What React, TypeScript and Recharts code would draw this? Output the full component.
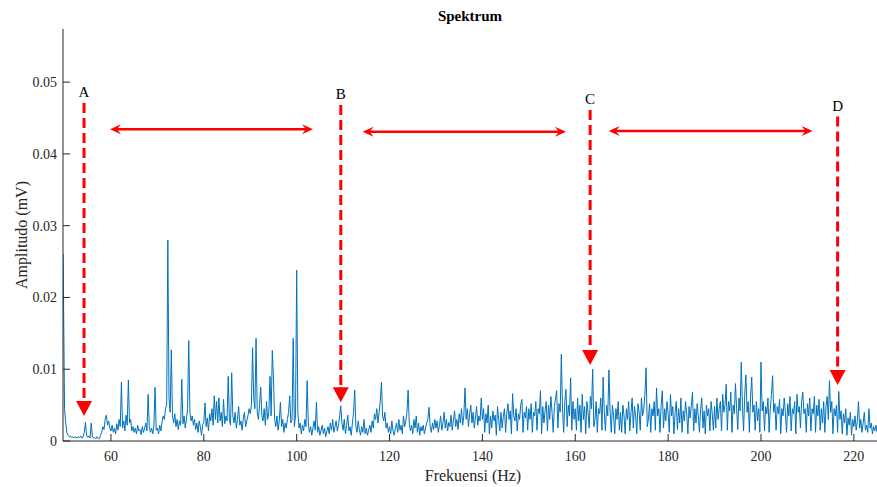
import React from 'react';
import { LineChart, Line, XAxis, YAxis, ReferenceLine } from 'recharts';

// amplitudes in units of 1e-4 mV, 0.25 Hz bins, each band covers 10 Hz
const amp50 = [45, 25, 12, 8, 6, 7, 5, 6, 4, 6, 5, 4, 6, 5, 7, 4, 6, 12, 26, 8, 5, 7, 4, 25, 6, 4, 5, 3, 6, 4, 3, 8, 12, 20, 16, 30, 36, 22, 28, 18];
const amp60 = [14, 22, 12, 18, 10, 24, 15, 30, 20, 82, 18, 28, 14, 36, 22, 85, 25, 30, 14, 20, 12, 18, 10, 22, 14, 16, 9, 20, 12, 18, 25, 14, 65, 20, 12, 18, 10, 22, 75, 15];
const amp70 = [18, 10, 22, 14, 26, 35, 30, 45, 50, 280, 60, 40, 127, 35, 25, 38, 20, 30, 16, 28, 22, 86, 24, 35, 18, 30, 45, 140, 40, 28, 35, 22, 30, 16, 25, 12, 28, 20, 8, 22];
const amp80 = [26, 53, 20, 32, 14, 38, 28, 45, 22, 63, 30, 55, 25, 60, 28, 40, 20, 58, 24, 35, 28, 90, 30, 22, 95, 35, 25, 40, 18, 30, 48, 22, 28, 15, 32, 40, 20, 28, 35, 45];
const amp90 = [38, 50, 130, 60, 45, 143, 40, 30, 50, 75, 35, 28, 45, 22, 55, 30, 40, 90, 35, 126, 88, 30, 20, 35, 15, 28, 54, 20, 30, 12, 25, 18, 30, 40, 63, 25, 30, 143, 20, 35];
const amp100 = [238, 40, 18, 25, 10, 22, 14, 30, 20, 84, 25, 12, 20, 8, 18, 28, 15, 54, 12, 20, 8, 15, 22, 10, 18, 6, 14, 20, 10, 25, 15, 30, 12, 20, 28, 14, 22, 35, 49, 25];
const amp110 = [15, 30, 10, 22, 36, 14, 20, 8, 25, 40, 71, 20, 12, 28, 16, 8, 20, 12, 30, 10, 18, 8, 15, 22, 12, 28, 18, 38, 30, 45, 25, 40, 55, 82, 35, 28, 40, 18, 25, 12];
const amp120 = [20, 10, 28, 14, 8, 18, 25, 12, 30, 15, 22, 10, 35, 20, 28, 40, 71, 25, 14, 22, 10, 30, 18, 35, 12, 25, 8, 20, 14, 22, 10, 18, 25, 30, 47, 20, 12, 25, 16, 30];
const amp130 = [18, 28, 12, 22, 35, 15, 25, 40, 18, 30, 14, 26, 20, 36, 15, 28, 42, 20, 30, 16, 38, 25, 45, 22, 35, 74, 30, 45, 20, 38, 50, 25, 40, 18, 32, 48, 22, 35, 28, 60];
const amp140 = [30, 45, 12, 38, 25, 50, 10, 35, 18, 42, 28, 36, 8, 48, 30, 14, 40, 18, 34, 45, 12, 38, 52, 30, 42, 10, 66, 35, 28, 45, 14, 38, 30, 50, 58, 12, 40, 32, 48, 15];
const amp150 = [45, 30, 52, 12, 40, 35, 55, 15, 45, 38, 70, 10, 48, 25, 42, 55, 14, 50, 30, 62, 40, 12, 48, 60, 70, 18, 52, 40, 121, 45, 12, 55, 72, 20, 50, 35, 88, 15, 55, 30];
const amp160 = [45, 15, 60, 28, 50, 12, 65, 30, 48, 10, 55, 40, 18, 62, 45, 100, 20, 30, 55, 12, 45, 38, 60, 15, 89, 40, 14, 50, 35, 99, 42, 12, 50, 35, 10, 45, 30, 55, 15, 40];
const amp170 = [12, 50, 35, 10, 45, 30, 55, 14, 40, 60, 18, 48, 35, 10, 52, 40, 15, 60, 35, 45, 65, 102, 20, 30, 52, 12, 45, 35, 55, 15, 74, 35, 45, 12, 50, 70, 18, 45, 28, 55];
const amp180 = [38, 12, 65, 35, 48, 10, 40, 55, 16, 45, 25, 60, 12, 42, 28, 55, 38, 10, 48, 32, 50, 68, 14, 45, 25, 52, 35, 12, 45, 60, 18, 42, 10, 50, 35, 45, 14, 55, 38, 15];
const amp190 = [48, 18, 60, 30, 45, 55, 14, 65, 40, 50, 79, 15, 55, 42, 68, 12, 50, 38, 80, 45, 16, 60, 42, 110, 50, 14, 65, 92, 40, 55, 12, 62, 89, 40, 50, 15, 55, 28, 45, 12];
const amp200 = [110, 42, 55, 14, 48, 38, 60, 12, 45, 65, 91, 40, 52, 15, 48, 38, 58, 10, 45, 35, 60, 40, 12, 52, 35, 62, 14, 45, 38, 55, 10, 65, 40, 48, 18, 55, 68, 38, 45, 12];
const amp210 = [52, 35, 60, 14, 45, 38, 62, 12, 50, 35, 58, 15, 45, 25, 55, 12, 48, 62, 30, 84, 40, 55, 10, 45, 35, 50, 12, 69, 30, 42, 10, 38, 25, 45, 8, 32, 22, 40, 8, 30];
const amp220 = [20, 35, 15, 28, 55, 18, 30, 12, 25, 40, 15, 22, 12, 45, 18, 25, 10, 20, 14, 22, 12];

const leadFreq = 49.7;
const leadAmp = 260;
const binStart = 50;
const binStep = 0.25;

const xTicks = [60, 80, 100, 120, 140, 160, 180, 200, 220];
const yTicks = [0, 0.01, 0.02, 0.03, 0.04, 0.05];

// annotation markers A-D
const markLetters = ['A', 'B', 'C', 'D'];
const markFreqs = [54.2, 109.5, 163.2, 216.5];
const markTops = [0.0471, 0.0468, 0.0461, 0.0452];
const markTips = [0.0035, 0.0054, 0.0106, 0.0078];

// horizontal double arrows between markers
const spanStarts = [59.8, 114.2, 167.2];
const spanEnds = [103.5, 158.0, 211.1];
const spanLevels = [0.04345, 0.0431, 0.0432];

const bands = [amp50, amp60, amp70, amp80, amp90, amp100, amp110, amp120, amp130, amp140, amp150, amp160, amp170, amp180, amp190, amp200, amp210, amp220];

const data = [
  { f: leadFreq, a: leadAmp / 10000 },
  ...bands.flat().map((v, i) => ({ f: binStart + i * binStep, a: v / 10000 })),
];

const FONT = '"Liberation Serif", "Times New Roman", serif';
const INK = '#262626';
const RED = '#ff0000';

const BottomTick = (p: any) => (
  <g>
    <line x1={p.x} y1={p.y} x2={p.x} y2={p.y - 7} stroke={INK} />
    <text x={p.x} y={p.y + 20} textAnchor="middle" fontSize={14} fill={INK} fontFamily={FONT}>
      {p.payload.value}
    </text>
  </g>
);

const TopTick = (p: any) => <line x1={p.x} y1={p.y} x2={p.x} y2={p.y + 7} stroke={INK} />;

const LeftTick = (p: any) => (
  <g>
    <line x1={p.x} y1={p.y} x2={p.x + 7} y2={p.y} stroke={INK} />
    <text x={p.x - 6} y={p.y + 5} textAnchor="end" fontSize={14} fill={INK} fontFamily={FONT}>
      {p.payload.value === 0 ? '0' : String(p.payload.value)}
    </text>
  </g>
);

const RightTick = (p: any) => <line x1={p.x} y1={p.y} x2={p.x - 7} y2={p.y} stroke={INK} />;

const DownArrow = (letter: string) => (p: any) => {
  const head = 15;
  return (
    <g>
      <text x={p.x1} y={p.y1 - 6} textAnchor="middle" fontSize={15} fill="#000" fontFamily={FONT}>
        {letter}
      </text>
      <line x1={p.x1} y1={p.y1} x2={p.x2} y2={p.y2 - head} stroke={RED} strokeWidth={3} strokeDasharray="10 5" />
      <polygon points={`${p.x2},${p.y2} ${p.x2 - 8},${p.y2 - head} ${p.x2 + 8},${p.y2 - head}`} fill={RED} />
    </g>
  );
};

const SpanArrow = (p: any) => {
  const y = p.y1;
  return (
    <g>
      <line x1={p.x1 + 4} y1={y} x2={p.x2 - 4} y2={y} stroke={RED} strokeWidth={2.5} />
      <polygon points={`${p.x1},${y} ${p.x1 + 11},${y - 5} ${p.x1 + 7},${y} ${p.x1 + 11},${y + 5}`} fill={RED} />
      <polygon points={`${p.x2},${y} ${p.x2 - 11},${y - 5} ${p.x2 - 7},${y} ${p.x2 - 11},${y + 5}`} fill={RED} />
    </g>
  );
};

export default function App() {
  return (
    <div style={{ position: 'absolute', left: 0, top: 0, width: 877, height: 487, overflow: 'hidden', background: '#fff' }}>
      <LineChart width={878} height={487} data={data} margin={{ top: 29, right: 0, bottom: 0, left: 0 }}>
        <XAxis
          dataKey="f"
          type="number"
          domain={[49.67, 225.2]}
          ticks={xTicks}
          allowDataOverflow
          height={46}
          tickSize={0}
          tickMargin={0}
          tickLine={false}
          tick={BottomTick}
          axisLine={{ stroke: INK }}
        />
        <XAxis
          xAxisId="top"
          dataKey="f"
          type="number"
          orientation="top"
          domain={[49.67, 225.2]}
          ticks={xTicks}
          allowDataOverflow
          height={0}
          tickSize={0}
          tickMargin={0}
          tickLine={false}
          tick={TopTick}
          axisLine={{ stroke: '#808080' }}
        />
        <YAxis
          type="number"
          domain={[0, 0.0574]}
          ticks={yTicks}
          allowDataOverflow
          width={63}
          tickSize={0}
          tickMargin={0}
          tickLine={false}
          tick={LeftTick}
          axisLine={{ stroke: INK }}
        />
        <YAxis
          yAxisId="right"
          type="number"
          orientation="right"
          domain={[0, 0.0574]}
          ticks={yTicks}
          allowDataOverflow
          width={0}
          tickSize={0}
          tickMargin={0}
          tickLine={false}
          tick={RightTick}
          axisLine={{ stroke: INK }}
        />
        <Line type="linear" dataKey="a" stroke="#0072BD" strokeWidth={1} dot={false} isAnimationActive={false} />
        {markLetters.map((l, i) => (
          <ReferenceLine
            key={l}
            segment={[
              { x: markFreqs[i], y: markTops[i] },
              { x: markFreqs[i], y: markTips[i] },
            ]}
            shape={DownArrow(l)}
          />
        ))}
        {spanStarts.map((s, i) => (
          <ReferenceLine
            key={'span' + i}
            segment={[
              { x: s, y: spanLevels[i] },
              { x: spanEnds[i], y: spanLevels[i] },
            ]}
            shape={SpanArrow}
          />
        ))}
        <text x={470} y={21} textAnchor="middle" fontSize={15} fontWeight="bold" fill="#000" fontFamily={FONT}>
          Spektrum
        </text>
        <text x={473} y={481} textAnchor="middle" fontSize={16} fill={INK} fontFamily={FONT}>
          Frekuensi (Hz)
        </text>
        <text x={27} y={235} transform="rotate(-90 27 235)" textAnchor="middle" fontSize={16} fill={INK} fontFamily={FONT}>
          Amplitudo (mV)
        </text>
      </LineChart>
    </div>
  );
}
